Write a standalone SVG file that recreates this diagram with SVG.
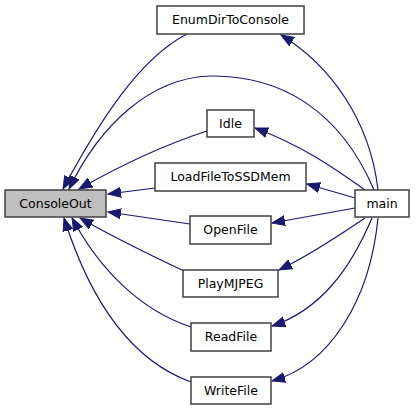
<svg xmlns="http://www.w3.org/2000/svg" width="416" height="411" viewBox="0 0 416 411">
<style>
.n rect{fill:#fff;stroke:#404040;stroke-width:1.5}
.n text{font-family:"DejaVu Sans",sans-serif;font-size:12.5px;fill:#000;text-anchor:middle}
.e path{fill:none;stroke:#191970;stroke-width:1.2}
</style>
<defs>
<marker id="a" markerUnits="userSpaceOnUse" markerWidth="14" markerHeight="12" refX="13" refY="5" orient="auto" viewBox="0 0 14 10">
<polygon points="0,0 13,5 0,10" fill="#191970" stroke="#191970"/>
</marker>
</defs>
<rect width="416" height="411" fill="#fff"/>
<g class="e">
<path d="M187,34 C140,58 100,120 63,189" marker-end="url(#a)"/>
<path d="M374,190 C340,110 280,75 210,76 C150,78 100,125 69,189" marker-end="url(#a)"/>
<path d="M207,131 C170,143 130,160 79,189" marker-end="url(#a)"/>
<path d="M155,188 L108,194" marker-end="url(#a)"/>
<path d="M190,224 L108,212" marker-end="url(#a)"/>
<path d="M184,271 C150,255 115,238 80,218" marker-end="url(#a)"/>
<path d="M191,327 C140,310 100,270 72,218" marker-end="url(#a)"/>
<path d="M191,382 C130,360 90,300 64,218" marker-end="url(#a)"/>
<path d="M378,190 C370,120 330,65 281,35" marker-end="url(#a)"/>
<path d="M365,190 C330,165 300,145 255,128" marker-end="url(#a)"/>
<path d="M355,198 L307,184" marker-end="url(#a)"/>
<path d="M355,208 L272,223" marker-end="url(#a)"/>
<path d="M365,218 C340,235 310,255 279,270" marker-end="url(#a)"/>
<path d="M372,218 C350,270 320,310 272,326" marker-end="url(#a)"/>
<path d="M378,218 C370,300 330,365 272,381" marker-end="url(#a)"/>
</g>
<g id="ConsoleOut" class="n"><rect x="5" y="190" width="101" height="27" style="fill:#bfbfbf"/><text x="55.5" y="208">ConsoleOut</text></g>
<g id="EnumDirToConsole" class="n"><rect x="157" y="6" width="147" height="28"/><text x="230.5" y="24">EnumDirToConsole</text></g>
<g id="Idle" class="n"><rect x="207" y="110" width="47" height="27"/><text x="230.5" y="128">Idle</text></g>
<g id="LoadFileToSSDMem" class="n"><rect x="155" y="163" width="151" height="28"/><text x="230.5" y="181">LoadFileToSSDMem</text></g>
<g id="OpenFile" class="n"><rect x="190" y="216" width="81" height="28"/><text x="230.5" y="234">OpenFile</text></g>
<g id="PlayMJPEG" class="n"><rect x="183" y="270" width="95" height="27"/><text x="230.5" y="288">PlayMJPEG</text></g>
<g id="ReadFile" class="n"><rect x="191" y="323" width="80" height="28"/><text x="231" y="341">ReadFile</text></g>
<g id="WriteFile" class="n"><rect x="191" y="377" width="80" height="27"/><text x="231" y="395">WriteFile</text></g>
<g id="main" class="n"><rect x="355" y="190" width="54" height="27"/><text x="382" y="208">main</text></g>
</svg>
